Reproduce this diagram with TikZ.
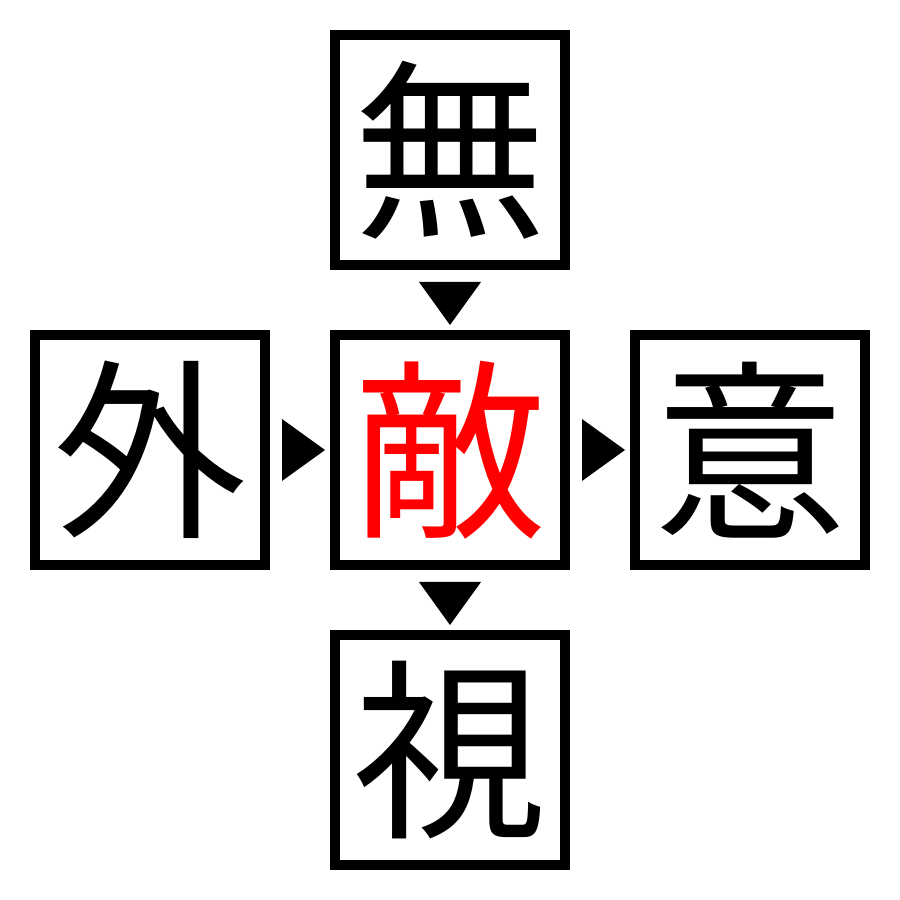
\documentclass[tikz,border=0pt]{standalone}
\usepackage{fontspec}
\newfontfamily\cjk{Noto Sans CJK JP}
\usetikzlibrary{positioning}
\tikzset{
	kanji/.style={draw, line width=1mm, minimum size=2.3cm, inner sep=0pt,
		font=\cjk\fontsize{55}{55}\selectfont},
}
\begin{document}
\begin{tikzpicture}
		\useasboundingbox (0, 0) rectangle (9, 9);
		% the five boxes
		\node[kanji, text=red] (teki) at (4.5, 4.5) {敵};
		\node[kanji] (mu) at (4.5, 7.5) {無};
		\node[kanji] (gai) at (1.5, 4.5) {外};
		\node[kanji] (i) at (7.5, 4.5) {意};
		\node[kanji] (shi) at (4.5, 1.5) {視};
		% triangles between the boxes
		\fill ([xshift=-3.1mm, yshift=-1.2mm]mu.south) -- ([yshift=-5.5mm]mu.south) -- ([xshift=3.1mm, yshift=-1.2mm]mu.south) -- cycle;
		\fill ([xshift=-3.1mm, yshift=-1.2mm]teki.south) -- ([yshift=-5.5mm]teki.south) -- ([xshift=3.1mm, yshift=-1.2mm]teki.south) -- cycle;
		\fill ([xshift=1.2mm, yshift=3.1mm]gai.east) -- ([xshift=5.5mm]gai.east) -- ([xshift=1.2mm, yshift=-3.1mm]gai.east) -- cycle;
		\fill ([xshift=1.2mm, yshift=3.1mm]teki.east) -- ([xshift=5.5mm]teki.east) -- ([xshift=1.2mm, yshift=-3.1mm]teki.east) -- cycle;
	\end{tikzpicture}
\end{document}
